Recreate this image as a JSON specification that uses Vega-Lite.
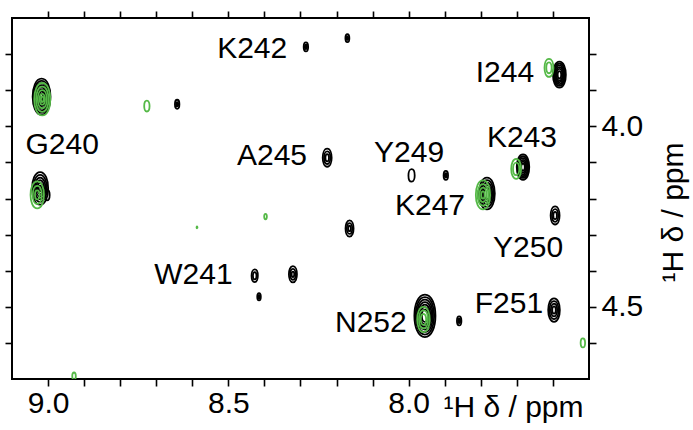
{
  "$schema": "https://vega.github.io/schema/vega-lite/v6.json",
  "autosize": "none",
  "width": 577,
  "height": 361,
  "padding": {"left": 12, "top": 18, "right": 104, "bottom": 51},
  "background": "white",
  "config": {
    "view": {"stroke": "black", "strokeWidth": 2},
    "font": "Liberation Sans",
    "axis": {"grid": false, "domain": false, "tickColor": "black", "tickWidth": 1.6, "tickSize": 7, "labelFont": "Liberation Sans", "labelFontSize": 30, "labelColor": "black", "titleFont": "Liberation Sans", "titleFontSize": 30, "titleFontWeight": "normal", "titleColor": "black", "minExtent": 0}
  },
  "datasets": {
    "rings": [
      {"peak": "G240a", "series": "A", "x": 9.018, "y": 3.918, "extent": 0.100},
      {"peak": "G240a", "series": "A", "x": 9.018, "y": 3.918, "extent": 0.088},
      {"peak": "G240a", "series": "A", "x": 9.018, "y": 3.918, "extent": 0.076},
      {"peak": "G240a", "series": "A", "x": 9.018, "y": 3.918, "extent": 0.064},
      {"peak": "G240a", "series": "A", "x": 9.018, "y": 3.918, "extent": 0.052},
      {"peak": "G240a", "series": "A", "x": 9.018, "y": 3.918, "extent": 0.040},
      {"peak": "G240a", "series": "A", "x": 9.018, "y": 3.918, "extent": 0.028},
      {"peak": "G240a", "series": "A", "x": 9.018, "y": 3.918, "extent": 0.016},
      {"peak": "G240b", "series": "A", "x": 9.022, "y": 4.172, "extent": 0.090},
      {"peak": "G240b", "series": "A", "x": 9.022, "y": 4.172, "extent": 0.075},
      {"peak": "G240b", "series": "A", "x": 9.022, "y": 4.172, "extent": 0.060},
      {"peak": "G240b", "series": "A", "x": 9.022, "y": 4.172, "extent": 0.045},
      {"peak": "G240b", "series": "A", "x": 9.022, "y": 4.172, "extent": 0.030},
      {"peak": "G240b", "series": "A", "x": 9.022, "y": 4.172, "extent": 0.015},
      {"peak": "G240c", "series": "A", "x": 9.003, "y": 4.190, "extent": 0.030},
      {"peak": "p1", "series": "A", "x": 8.642, "y": 3.939, "extent": 0.025},
      {"peak": "p1", "series": "A", "x": 8.642, "y": 3.939, "extent": 0.012},
      {"peak": "K242", "series": "A", "x": 8.285, "y": 3.780, "extent": 0.025},
      {"peak": "K242", "series": "A", "x": 8.285, "y": 3.780, "extent": 0.012},
      {"peak": "p2", "series": "A", "x": 8.170, "y": 3.756, "extent": 0.022},
      {"peak": "p2", "series": "A", "x": 8.170, "y": 3.756, "extent": 0.010},
      {"peak": "I244", "series": "A", "x": 7.582, "y": 3.857, "extent": 0.072},
      {"peak": "I244", "series": "A", "x": 7.582, "y": 3.857, "extent": 0.062},
      {"peak": "I244", "series": "A", "x": 7.582, "y": 3.857, "extent": 0.052},
      {"peak": "I244", "series": "A", "x": 7.582, "y": 3.857, "extent": 0.042},
      {"peak": "I244", "series": "A", "x": 7.582, "y": 3.857, "extent": 0.032},
      {"peak": "I244", "series": "A", "x": 7.582, "y": 3.857, "extent": 0.020},
      {"peak": "A245", "series": "A", "x": 8.226, "y": 4.087, "extent": 0.050},
      {"peak": "A245", "series": "A", "x": 8.226, "y": 4.087, "extent": 0.035},
      {"peak": "A245", "series": "A", "x": 8.226, "y": 4.087, "extent": 0.020},
      {"peak": "Y249a", "series": "A", "x": 7.992, "y": 4.136, "extent": 0.035},
      {"peak": "Y249b", "series": "A", "x": 7.897, "y": 4.136, "extent": 0.025},
      {"peak": "Y249b", "series": "A", "x": 7.897, "y": 4.136, "extent": 0.012},
      {"peak": "K243", "series": "A", "x": 7.683, "y": 4.113, "extent": 0.070},
      {"peak": "K243", "series": "A", "x": 7.683, "y": 4.113, "extent": 0.060},
      {"peak": "K243", "series": "A", "x": 7.683, "y": 4.113, "extent": 0.050},
      {"peak": "K243", "series": "A", "x": 7.683, "y": 4.113, "extent": 0.040},
      {"peak": "K243", "series": "A", "x": 7.683, "y": 4.113, "extent": 0.030},
      {"peak": "K243", "series": "A", "x": 7.683, "y": 4.113, "extent": 0.020},
      {"peak": "K247", "series": "A", "x": 7.783, "y": 4.186, "extent": 0.088},
      {"peak": "K247", "series": "A", "x": 7.783, "y": 4.186, "extent": 0.074},
      {"peak": "K247", "series": "A", "x": 7.783, "y": 4.186, "extent": 0.060},
      {"peak": "K247", "series": "A", "x": 7.783, "y": 4.186, "extent": 0.046},
      {"peak": "K247", "series": "A", "x": 7.783, "y": 4.186, "extent": 0.032},
      {"peak": "Y250", "series": "A", "x": 7.594, "y": 4.247, "extent": 0.050},
      {"peak": "Y250", "series": "A", "x": 7.594, "y": 4.247, "extent": 0.035},
      {"peak": "Y250", "series": "A", "x": 7.594, "y": 4.247, "extent": 0.020},
      {"peak": "p3", "series": "A", "x": 8.164, "y": 4.283, "extent": 0.045},
      {"peak": "p3", "series": "A", "x": 8.164, "y": 4.283, "extent": 0.030},
      {"peak": "p3", "series": "A", "x": 8.164, "y": 4.283, "extent": 0.015},
      {"peak": "W241", "series": "A", "x": 8.427, "y": 4.414, "extent": 0.035},
      {"peak": "W241", "series": "A", "x": 8.427, "y": 4.414, "extent": 0.020},
      {"peak": "p4", "series": "A", "x": 8.321, "y": 4.410, "extent": 0.045},
      {"peak": "p4", "series": "A", "x": 8.321, "y": 4.410, "extent": 0.030},
      {"peak": "p4", "series": "A", "x": 8.321, "y": 4.410, "extent": 0.015},
      {"peak": "p5", "series": "A", "x": 8.415, "y": 4.472, "extent": 0.020},
      {"peak": "p5", "series": "A", "x": 8.415, "y": 4.472, "extent": 0.010},
      {"peak": "N252", "series": "A", "x": 7.955, "y": 4.525, "extent": 0.118},
      {"peak": "N252", "series": "A", "x": 7.955, "y": 4.525, "extent": 0.104},
      {"peak": "N252", "series": "A", "x": 7.955, "y": 4.525, "extent": 0.090},
      {"peak": "N252", "series": "A", "x": 7.955, "y": 4.525, "extent": 0.076},
      {"peak": "N252", "series": "A", "x": 7.955, "y": 4.525, "extent": 0.062},
      {"peak": "N252", "series": "A", "x": 7.955, "y": 4.525, "extent": 0.048},
      {"peak": "N252", "series": "A", "x": 7.955, "y": 4.525, "extent": 0.034},
      {"peak": "p6", "series": "A", "x": 7.860, "y": 4.539, "extent": 0.025},
      {"peak": "p6", "series": "A", "x": 7.860, "y": 4.539, "extent": 0.012},
      {"peak": "F251", "series": "A", "x": 7.597, "y": 4.509, "extent": 0.065},
      {"peak": "F251", "series": "A", "x": 7.597, "y": 4.509, "extent": 0.050},
      {"peak": "F251", "series": "A", "x": 7.597, "y": 4.509, "extent": 0.035},
      {"peak": "F251", "series": "A", "x": 7.597, "y": 4.509, "extent": 0.020},
      {"peak": "G240a", "series": "B", "x": 9.016, "y": 3.925, "extent": 0.090},
      {"peak": "G240a", "series": "B", "x": 9.016, "y": 3.925, "extent": 0.070},
      {"peak": "G240a", "series": "B", "x": 9.016, "y": 3.925, "extent": 0.050},
      {"peak": "G240a", "series": "B", "x": 9.016, "y": 3.925, "extent": 0.030},
      {"peak": "G240a", "series": "B", "x": 9.016, "y": 3.925, "extent": 0.015},
      {"peak": "G240b", "series": "B", "x": 9.030, "y": 4.190, "extent": 0.075},
      {"peak": "G240b", "series": "B", "x": 9.030, "y": 4.190, "extent": 0.050},
      {"peak": "G240b", "series": "B", "x": 9.030, "y": 4.190, "extent": 0.025},
      {"peak": "g1", "series": "B", "x": 8.726, "y": 3.944, "extent": 0.030},
      {"peak": "I244", "series": "B", "x": 7.611, "y": 3.838, "extent": 0.050},
      {"peak": "I244", "series": "B", "x": 7.611, "y": 3.838, "extent": 0.030},
      {"peak": "K243", "series": "B", "x": 7.702, "y": 4.118, "extent": 0.055},
      {"peak": "K243", "series": "B", "x": 7.702, "y": 4.118, "extent": 0.035},
      {"peak": "K247", "series": "B", "x": 7.794, "y": 4.190, "extent": 0.080},
      {"peak": "K247", "series": "B", "x": 7.794, "y": 4.190, "extent": 0.060},
      {"peak": "K247", "series": "B", "x": 7.794, "y": 4.190, "extent": 0.040},
      {"peak": "K247", "series": "B", "x": 7.794, "y": 4.190, "extent": 0.020},
      {"peak": "N252", "series": "B", "x": 7.959, "y": 4.535, "extent": 0.070},
      {"peak": "N252", "series": "B", "x": 7.959, "y": 4.535, "extent": 0.050},
      {"peak": "N252", "series": "B", "x": 7.959, "y": 4.535, "extent": 0.030},
      {"peak": "g2", "series": "B", "x": 8.397, "y": 4.250, "extent": 0.015},
      {"peak": "g3", "series": "B", "x": 8.587, "y": 4.280, "extent": 0.005},
      {"peak": "g4", "series": "B", "x": 7.517, "y": 4.600, "extent": 0.025},
      {"peak": "g5", "series": "B", "x": 8.928, "y": 4.692, "extent": 0.020}
    ],
    "labels": [
      {"label": "K242", "x": 8.434, "y": 3.786},
      {"label": "I244", "x": 7.733, "y": 3.853},
      {"label": "G240", "x": 8.961, "y": 4.053},
      {"label": "A245", "x": 8.379, "y": 4.081},
      {"label": "Y249", "x": 7.999, "y": 4.075},
      {"label": "K243", "x": 7.686, "y": 4.033},
      {"label": "K247", "x": 7.941, "y": 4.222},
      {"label": "Y250", "x": 7.669, "y": 4.336},
      {"label": "W241", "x": 8.597, "y": 4.411},
      {"label": "F251", "x": 7.722, "y": 4.492},
      {"label": "N252", "x": 8.105, "y": 4.544}
    ]
  },
  "layer": [
    {
      "data": {"name": "rings"},
      "mark": {"type": "point", "filled": false, "strokeWidth": 1.8, "opacity": 1, "clip": true,
               "shape": "M0,-1C0.66,-1,0.66,1,0,1C-0.66,1,-0.66,-1,0,-1Z"},
      "encoding": {
        "x": {"field": "x", "type": "quantitative",
              "scale": {"domain": [7.5, 9.1], "reverse": true, "nice": false, "zero": false},
              "axis": {"orient": "bottom", "values": [9.0, 8.9, 8.8, 8.7, 8.6, 8.5, 8.4, 8.3, 8.2, 8.1, 8.0, 7.9, 7.8, 7.7, 7.6],
                       "labelExpr": "abs(datum.value*2 - round(datum.value*2)) < 0.001 ? format(datum.value, '.1f') : ''",
                       "labelPadding": 2, "labelBaseline": "top",
                       "title": "¹H δ / ppm", "titleX": 501, "titleY": 37, "titleAnchor": null, "titleAlign": "center", "titleBaseline": "alphabetic"}},
        "y": {"field": "y", "type": "quantitative",
              "scale": {"domain": [3.7, 4.7], "reverse": true, "nice": false, "zero": false},
              "axis": {"orient": "right", "values": [3.8, 3.9, 4.0, 4.1, 4.2, 4.3, 4.4, 4.5, 4.6],
                       "labelExpr": "abs(datum.value*2 - round(datum.value*2)) < 0.001 ? format(datum.value, '.1f') : ''",
                       "labelPadding": 5,
                       "title": "¹H δ / ppm", "titleAngle": 270, "titleX": 84, "titleY": 194, "titleAlign": "center", "titleBaseline": "middle"}},
        "size": {"field": "extent", "type": "quantitative", "legend": null,
                 "scale": {"type": "pow", "exponent": 2, "domain": [0, 0.1], "range": [0, 1303]}},
        "stroke": {"field": "series", "type": "nominal", "legend": null,
                   "scale": {"domain": ["A", "B"], "range": ["#000000", "#55b947"]}}
      }
    },
    {
      "data": {"name": "labels"},
      "mark": {"type": "text", "font": "Liberation Sans", "fontSize": 30, "color": "black", "align": "center", "baseline": "middle"},
      "encoding": {
        "x": {"field": "x", "type": "quantitative",
              "axis": {"orient": "top", "values": [9.0, 8.9, 8.8, 8.7, 8.6, 8.5, 8.4, 8.3, 8.2, 8.1, 8.0, 7.9, 7.8, 7.7, 7.6], "labels": false, "title": null}},
        "y": {"field": "y", "type": "quantitative",
              "axis": {"orient": "left", "values": [3.8, 3.9, 4.0, 4.1, 4.2, 4.3, 4.4, 4.5, 4.6], "labels": false, "title": null}},
        "text": {"field": "label", "type": "nominal"}
      }
    }
  ],
  "resolve": {"axis": {"x": "independent", "y": "independent"}}
}
